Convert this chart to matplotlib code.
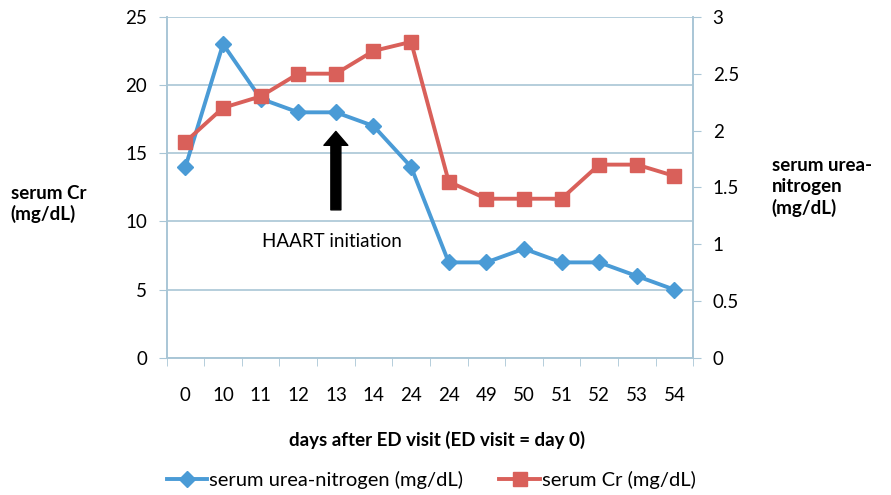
import matplotlib.pyplot as plt
from matplotlib.ticker import MultipleLocator, FixedLocator

# data
days = ["0", "10", "11", "12", "13", "14", "24", "24", "49", "50", "51", "52", "53", "54"]
urea_nitrogen = [14, 23, 19, 18, 18, 17, 14, 7, 7, 8, 7, 7, 6, 5]
creatinine = [1.9, 2.2, 2.3, 2.5, 2.5, 2.7, 2.78, 1.55, 1.4, 1.4, 1.4, 1.7, 1.7, 1.6]
haart_day_index = 4

BLUE = "#4A9BD6"
RED = "#D9605A"
AXIS_COLOR = "#A9C6D6"
FS = 13.5

plt.rcParams["font.family"] = ["Lato", "DejaVu Sans"]

fig = plt.figure(figsize=(8.91, 4.95), dpi=100)
ax = fig.add_axes([0.187, 0.277, 0.591, 0.689])
ax2 = ax.twinx()

x = list(range(len(days)))

ax.plot(x, urea_nitrogen, color=BLUE, lw=2.8, marker="D", ms=8,
        label="serum urea-nitrogen (mg/dL)", zorder=3)
ax2.plot(x, creatinine, color=RED, lw=2.8, marker="s", ms=10,
         label="serum Cr (mg/dL)", zorder=3)

ax.set_xlim(-0.5, len(days) - 0.5)
ax.set_ylim(0, 25)
ax2.set_ylim(0, 3)
ax.yaxis.set_major_locator(MultipleLocator(5))
ax2.set_yticks([0, 0.5, 1, 1.5, 2, 2.5, 3])
ax2.set_yticklabels(["0", "0.5", "1", "1.5", "2", "2.5", "3"])

ax.set_xticks(x)
ax.set_xticklabels(days)
ax.xaxis.set_minor_locator(FixedLocator([i - 0.5 for i in range(len(days) + 1)]))
ax.tick_params(axis="x", which="major", length=0, pad=21, labelsize=FS)
ax.tick_params(axis="x", which="minor", length=6, color=AXIS_COLOR, direction="out")
ax.tick_params(axis="y", length=6, color=AXIS_COLOR, labelsize=FS, pad=8)
ax2.tick_params(axis="y", length=6, color=AXIS_COLOR, labelsize=FS, pad=8)

ax.grid(axis="y", color=AXIS_COLOR, lw=1.2)
ax.set_axisbelow(True)

for a in (ax, ax2):
    a.spines["top"].set_visible(False)
    for s in ("left", "right", "bottom"):
        a.spines[s].set_color(AXIS_COLOR)
        a.spines[s].set_linewidth(1.2)

# HAART initiation arrow and note
ax.annotate("", xy=(haart_day_index, 16.6), xytext=(haart_day_index, 10.85),
            arrowprops=dict(arrowstyle="simple,head_width=0.86,head_length=0.5,tail_width=0.36",
                            mutation_scale=20, color="black", shrinkA=0, shrinkB=0))
ax.text(haart_day_index - 0.1, 8.5, "HAART initiation", ha="center", va="center", fontsize=FS)

fig.text(0.012, 0.588, "serum Cr\n(mg/dL)", fontsize=FS, fontweight="bold",
         ha="left", va="center", linespacing=1.25)
fig.text(0.866, 0.622, "serum urea-\nnitrogen\n(mg/dL)", fontsize=FS, fontweight="bold",
         ha="left", va="center", linespacing=1.25)
fig.text(0.49, 0.111, "days after ED visit (ED visit = day 0)", fontsize=FS,
         fontweight="bold", ha="center", va="center")

h1, l1 = ax.get_legend_handles_labels()
h2, l2 = ax2.get_legend_handles_labels()
fig.legend(h1 + h2, l1 + l2, loc="center", bbox_to_anchor=(0.484, 0.03), ncol=2,
           frameon=False, fontsize=14.5, handlelength=2.0, columnspacing=1.8,
           handletextpad=0.1)

fig.savefig("out.png", dpi=100)
